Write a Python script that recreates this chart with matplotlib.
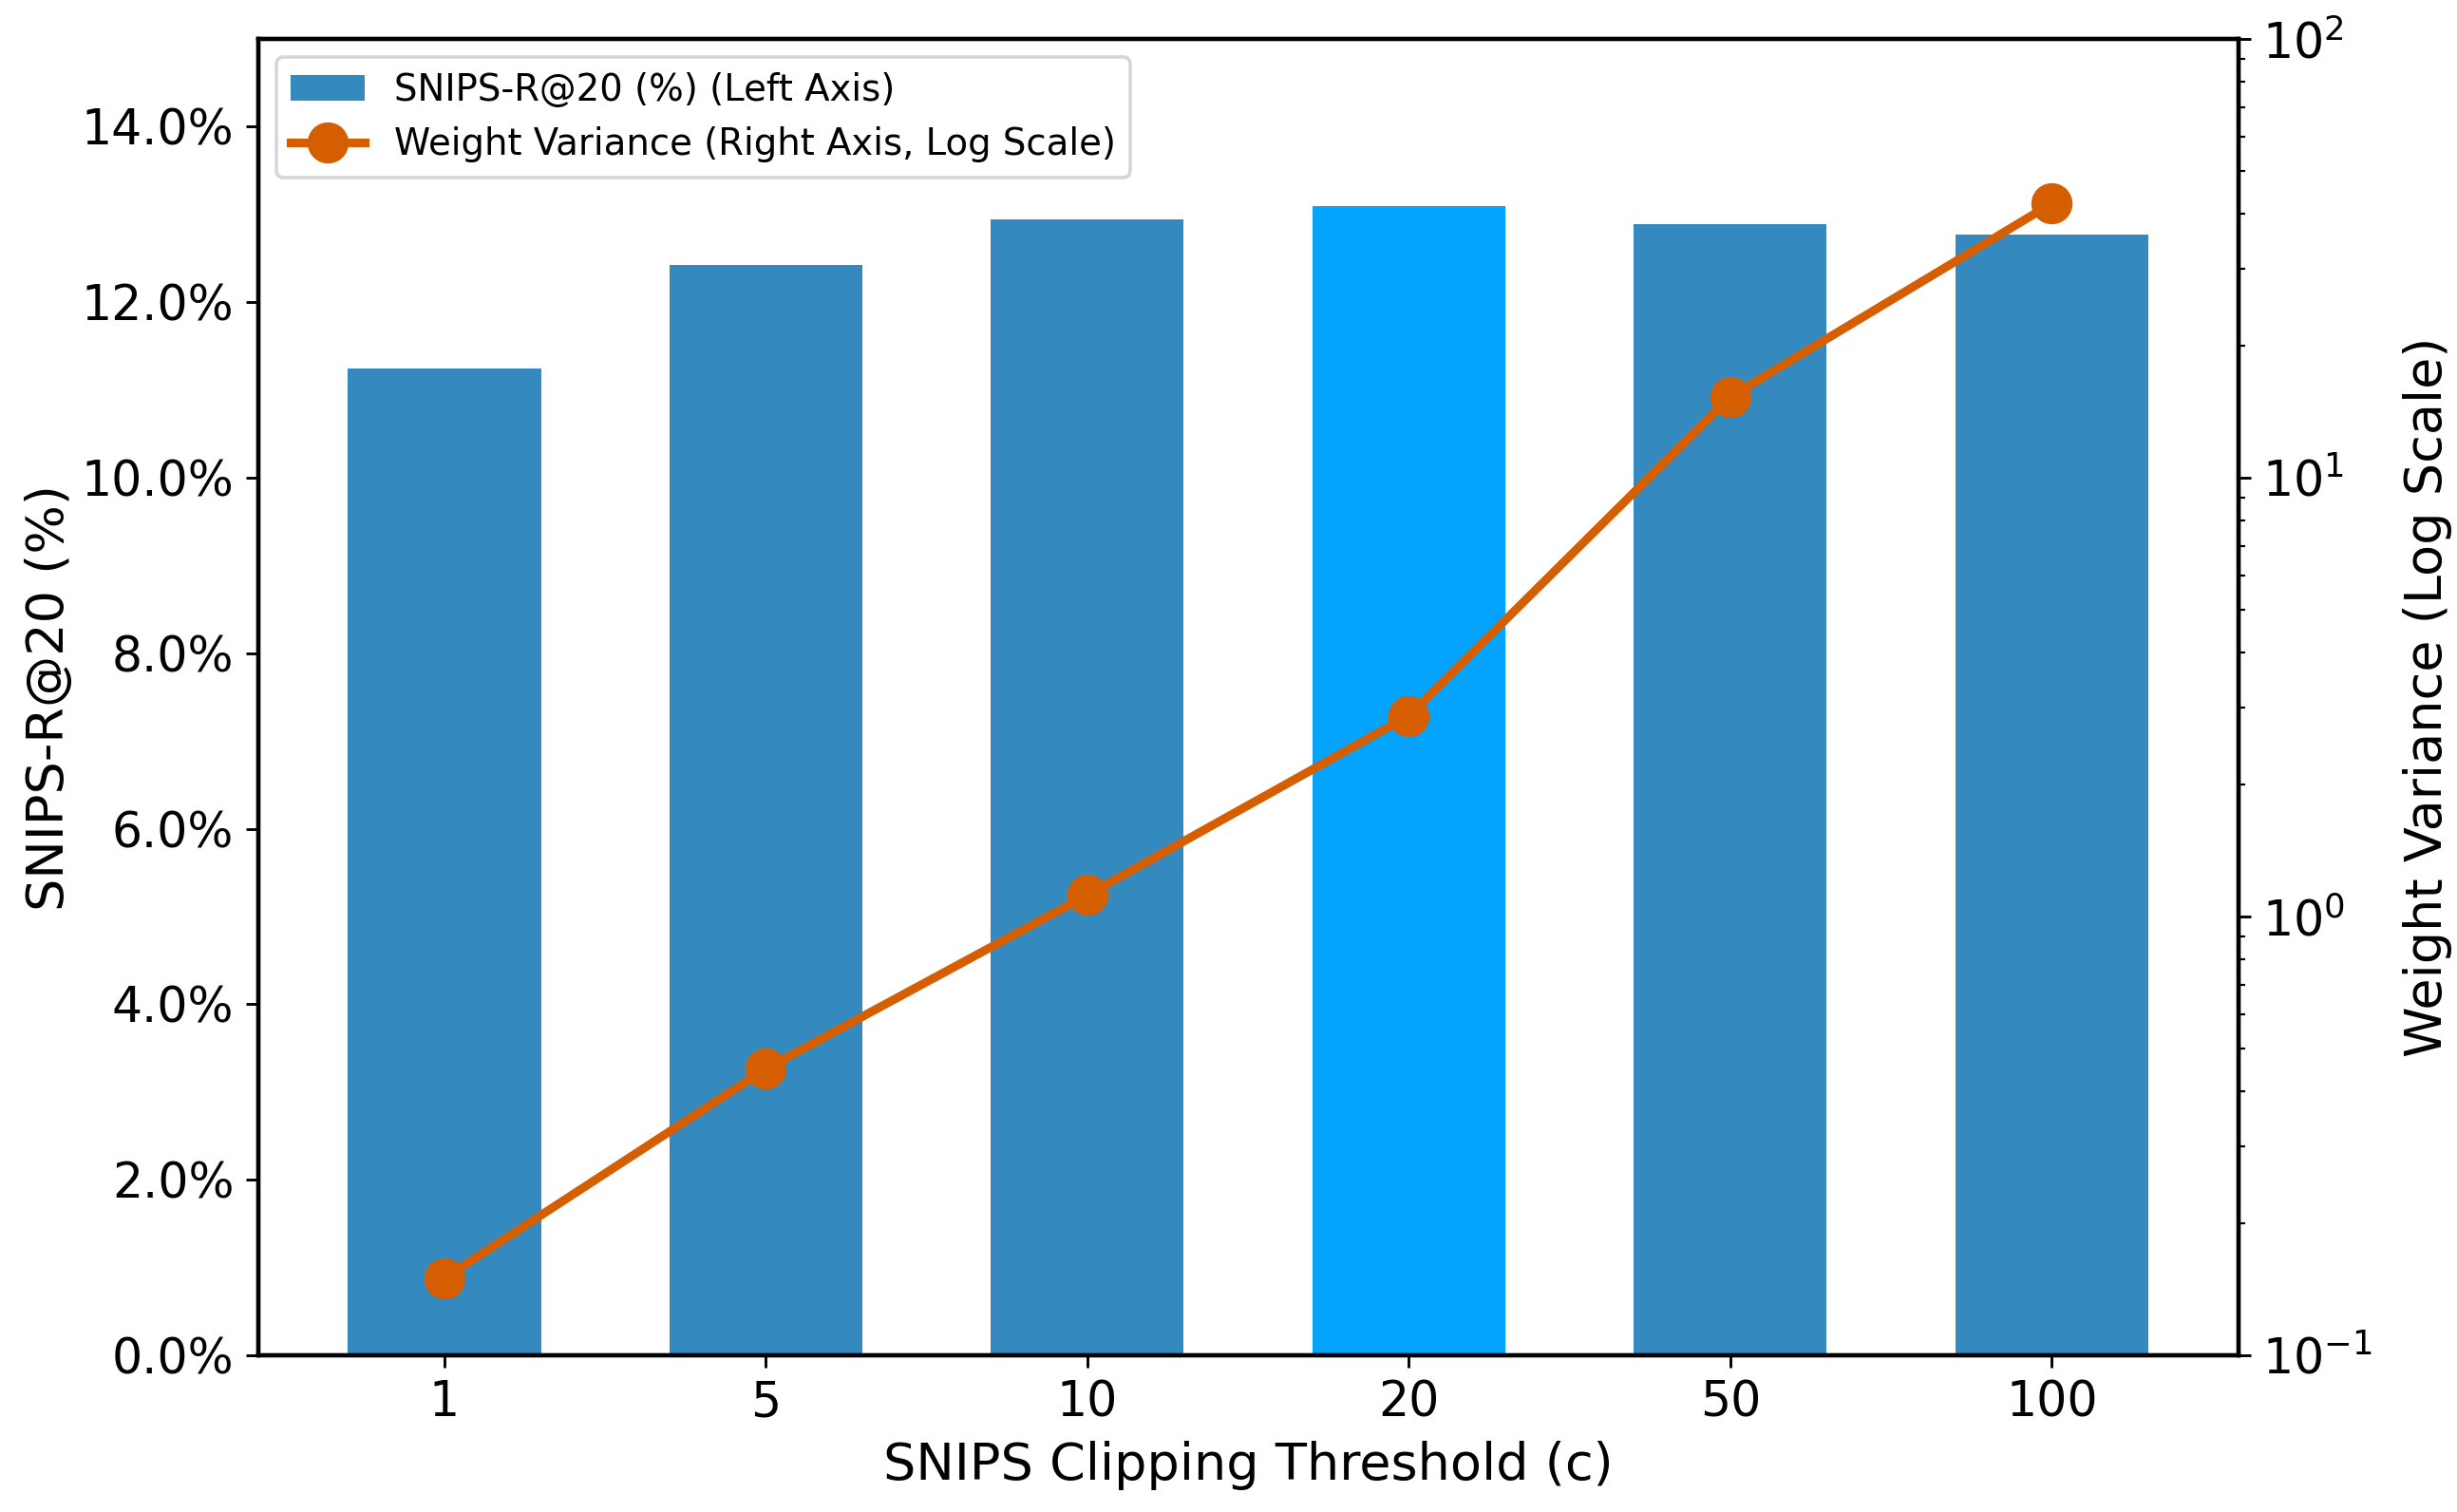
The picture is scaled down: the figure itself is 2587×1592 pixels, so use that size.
import matplotlib
matplotlib.use("Agg")
import matplotlib.pyplot as plt
from matplotlib.ticker import PercentFormatter, MultipleLocator
import numpy as np

thresholds = ["1", "5", "10", "20", "50", "100"]
recall_pct = [11.25, 12.43, 12.94, 13.10, 12.89, 12.77]
weight_var = [0.15, 0.45, 1.12, 2.87, 15.3, 42.2]
best_idx = 3

bar_color = "#348ABF"
best_color = "#03A3FE"
line_color = "#D55E00"

DPI = 260
fig = plt.figure(figsize=(2587 / DPI, 1592 / DPI), dpi=DPI)
ax1 = fig.add_axes([0.105, 0.1036, 0.806, 0.8706])
x = np.arange(len(thresholds))
colors = [best_color if i == best_idx else bar_color for i in range(len(thresholds))]
bars = ax1.bar(x, recall_pct, width=0.6, color=colors, label="SNIPS-R@20 (%) (Left Axis)", zorder=2)
ax1.set_ylim(0, 15)
ax1.yaxis.set_major_locator(MultipleLocator(2))
ax1.yaxis.set_major_formatter(PercentFormatter(decimals=1))
ax1.set_xticks(x)
ax1.set_xticklabels(thresholds)
ax1.set_xlabel("SNIPS Clipping Threshold (c)", fontsize=15)
ax1.set_ylabel("SNIPS-R@20 (%)", fontsize=15, labelpad=2)
ax1.tick_params(labelsize=14)

ax2 = ax1.twinx()
line, = ax2.plot(x, weight_var, color=line_color, linewidth=2.5, marker="o", markersize=11,
                 label="Weight Variance (Right Axis, Log Scale)", zorder=3)
ax2.set_yscale("log")
ax2.set_ylim(0.1, 100)
ax2.set_ylabel("Weight Variance (Log Scale)", fontsize=15, labelpad=9)
ax2.tick_params(labelsize=14)

for a in (ax1, ax2):
    for s in a.spines.values():
        s.set_linewidth(1.2)

ax2.legend([bars, line], [bars.get_label(), line.get_label()], loc="upper left", fontsize=10.7)

fig.savefig("out.png", dpi=DPI)
